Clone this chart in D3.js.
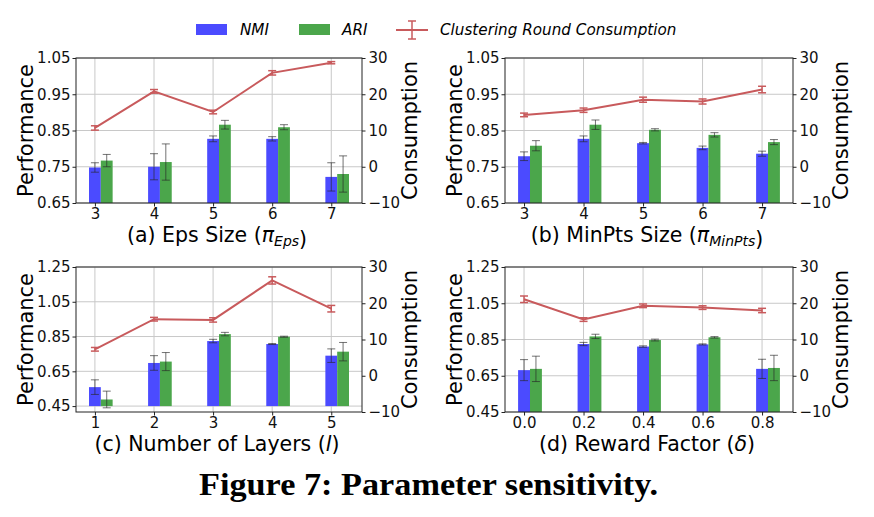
<!DOCTYPE html>
<html><head><meta charset="utf-8">
<script src="https://cdn.jsdelivr.net/npm/d3@7"></script>
<style>
body{margin:0;background:#fff;}
svg{display:block;font-family:"DejaVu Sans",sans-serif;}
</style></head>
<body>
<svg id="chart" width="874" height="517"></svg>
<script>
// ---------- data ----------
const legendLabels = ["NMI", "ARI", "Clustering Round Consumption"];
const perfTicksAB = [0.65, 0.75, 0.85, 0.95, 1.05];
const perfTicksCD = [0.45, 0.65, 0.85, 1.05, 1.25];
const consTicks = [-10, 0, 10, 20, 30];

// (a) Eps size
const catsA = ["3", "4", "5", "6", "7"];
const nmiA = [0.748, 0.750, 0.827, 0.827, 0.722];
const nmiErrA = [0.013, 0.036, 0.008, 0.006, 0.039];
const ariA = [0.767, 0.763, 0.866, 0.859, 0.730];
const ariErrA = [0.017, 0.050, 0.012, 0.007, 0.050];
const consA = [10.7, 20.8, 15.1, 25.9, 28.7];
const consErrA = [0.6, 0.5, 0.5, 0.6, 0.3];

// (b) MinPts size
const catsB = ["3", "4", "5", "6", "7"];
const nmiB = [0.779, 0.827, 0.815, 0.802, 0.786];
const nmiErrB = [0.012, 0.008, 0.002, 0.005, 0.007];
const ariB = [0.808, 0.866, 0.852, 0.838, 0.818];
const ariErrB = [0.014, 0.013, 0.003, 0.006, 0.007];
const consB = [14.3, 15.6, 18.5, 18.0, 21.3];
const consErrB = [0.5, 0.6, 0.7, 0.7, 0.9];

// (c) Number of layers
const catsC = ["1", "2", "3", "4", "5"];
const nmiC = [0.559, 0.698, 0.824, 0.807, 0.740];
const nmiErrC = [0.042, 0.042, 0.010, 0.003, 0.039];
const ariC = [0.488, 0.706, 0.864, 0.849, 0.763];
const ariErrC = [0.048, 0.052, 0.010, 0.003, 0.053];
const consC = [7.3, 15.6, 15.4, 26.3, 18.5];
const consErrC = [0.5, 0.5, 0.6, 1.0, 0.9];

// (d) Reward factor
const catsD = ["0.0", "0.2", "0.4", "0.6", "0.8"];
const nmiD = [0.681, 0.825, 0.811, 0.823, 0.688];
const nmiErrD = [0.058, 0.009, 0.004, 0.003, 0.053];
const ariD = [0.688, 0.867, 0.847, 0.862, 0.693];
const ariErrD = [0.070, 0.012, 0.005, 0.004, 0.070];
const consD = [21.1, 15.5, 19.3, 18.8, 18.0];
const consErrD = [0.9, 0.5, 0.5, 0.5, 0.6];

// ---------- styling / layout ----------
const C_NMI = "#4b4bff", C_ARI = "#4ba64b", C_LINE = "#c85a5c", C_ERR = "rgba(40,40,40,0.65)";
const svg = d3.select("#chart");

const panels = [
  {left:76, right:362, top:58, bottom:203, cats:catsA, nmi:nmiA, nmiErr:nmiErrA, ari:ariA, ariErr:ariErrA, cons:consA, consErr:consErrA,
   pDom:[0.65,1.05], pTicks:perfTicksAB, base:0.65, xl:[["(a) Eps Size (",""],["π","i"],["Eps","sub"],[")",""]]},
  {left:505, right:793, top:58, bottom:203, cats:catsB, nmi:nmiB, nmiErr:nmiErrB, ari:ariB, ariErr:ariErrB, cons:consB, consErr:consErrB,
   pDom:[0.65,1.05], pTicks:perfTicksAB, base:0.65, xl:[["(b) MinPts Size (",""],["π","i"],["MinPts","sub"],[")",""]]},
  {left:76, right:362, top:267, bottom:412, cats:catsC, nmi:nmiC, nmiErr:nmiErrC, ari:ariC, ariErr:ariErrC, cons:consC, consErr:consErrC,
   pDom:[0.416,1.25], pTicks:perfTicksCD, base:0.45, xl:[["(c) Number of Layers (",""],["l","i"],[")",""]]},
  {left:505, right:793, top:267, bottom:412, cats:catsD, nmi:nmiD, nmiErr:nmiErrD, ari:ariD, ariErr:ariErrD, cons:consD, consErr:consErrD,
   pDom:[0.45,1.25], pTicks:perfTicksCD, base:0.45, xl:[["(d) Reward Factor (",""],["δ","i"],[")",""]]}
];

const BW = 0.2;
panels.forEach(p => {
  const g = svg.append("g");
  const x = d3.scaleLinear().domain([-0.32, 4.52]).range([p.left, p.right]);
  const y = d3.scaleLinear().domain(p.pDom).range([p.bottom, p.top]);
  const y2 = d3.scaleLinear().domain([-10, 30]).range([p.bottom, p.top]);
  const idx = p.cats.map((c,i)=>i);

  // grid
  g.selectAll(".gx").data(idx).join("line")
    .attr("x1", d=>x(d)).attr("x2", d=>x(d)).attr("y1", p.top).attr("y2", p.bottom)
    .attr("stroke", "#c8c8c8").attr("stroke-width", 1);
  g.selectAll(".gy").data(p.pTicks).join("line")
    .attr("x1", p.left).attr("x2", p.right).attr("y1", d=>y(d)).attr("y2", d=>y(d))
    .attr("stroke", "#c8c8c8").attr("stroke-width", 1);

  // bars
  const series = [
    {vals:p.nmi, errs:p.nmiErr, off:0, col:C_NMI},
    {vals:p.ari, errs:p.ariErr, off:BW, col:C_ARI}
  ];
  series.forEach(s => {
    g.selectAll(null).data(idx).join("rect")
      .attr("x", d=>x(d + s.off - BW/2)).attr("width", x(BW) - x(0))
      .attr("y", d=>y(s.vals[d])).attr("height", d=>y(p.base) - y(s.vals[d]))
      .attr("fill", s.col);
  });
  series.forEach(s => {
    const eg = g.selectAll(null).data(idx).join("g").attr("stroke", C_ERR).attr("stroke-width", 1);
    eg.append("line").attr("x1", d=>x(d+s.off)).attr("x2", d=>x(d+s.off))
      .attr("y1", d=>y(s.vals[d]-s.errs[d])).attr("y2", d=>y(s.vals[d]+s.errs[d]));
    [-1,1].forEach(sg => eg.append("line")
      .attr("x1", d=>x(d+s.off)-4).attr("x2", d=>x(d+s.off)+4)
      .attr("y1", d=>y(s.vals[d]+sg*s.errs[d])).attr("y2", d=>y(s.vals[d]+sg*s.errs[d])));
  });

  // consumption line
  g.append("path").datum(idx)
    .attr("d", d3.line().x(d=>x(d)).y(d=>y2(p.cons[d])))
    .attr("fill", "none").attr("stroke", C_LINE).attr("stroke-width", 2);
  const lg = g.selectAll(null).data(idx).join("g").attr("stroke", C_LINE).attr("stroke-width", 1.5);
  lg.append("line").attr("x1", d=>x(d)).attr("x2", d=>x(d))
    .attr("y1", d=>y2(p.cons[d]-p.consErr[d])).attr("y2", d=>y2(p.cons[d]+p.consErr[d]));
  [-1,1].forEach(sg => lg.append("line")
    .attr("x1", d=>x(d)-4).attr("x2", d=>x(d)+4)
    .attr("y1", d=>y2(p.cons[d]+sg*p.consErr[d])).attr("y2", d=>y2(p.cons[d]+sg*p.consErr[d])));

  // axes
  const ax = g.append("g").attr("transform", `translate(0,${p.bottom})`)
    .call(d3.axisBottom(x).tickValues(idx).tickFormat(d=>p.cats[d]).tickSize(3.5).tickPadding(2));
  const ay = g.append("g").attr("transform", `translate(${p.left},0)`)
    .call(d3.axisLeft(y).tickValues(p.pTicks).tickFormat(d3.format(".2f")).tickSize(3.5).tickPadding(2));
  const ay2 = g.append("g").attr("transform", `translate(${p.right},0)`)
    .call(d3.axisRight(y2).tickValues(consTicks).tickSize(3.5).tickPadding(3));
  [ax, ay, ay2].forEach(a => {
    a.select(".domain").remove();
    a.selectAll("line").attr("stroke", "#222");
    a.selectAll("text").attr("font-size", 15).attr("fill", "#111").attr("font-family", "DejaVu Sans");
  });
  g.append("rect").attr("x", p.left).attr("y", p.top).attr("width", p.right-p.left).attr("height", p.bottom-p.top)
    .attr("fill", "none").attr("stroke", "#222").attr("stroke-width", 1);

  // labels
  g.append("text").attr("transform", `translate(${p.left-50},${(p.top+p.bottom)/2}) rotate(-90)`)
    .attr("text-anchor", "middle").attr("dy", "0.35em").attr("font-size", 21).text("Performance");
  g.append("text").attr("transform", `translate(${p.right+48},${(p.top+p.bottom)/2}) rotate(-90)`)
    .attr("text-anchor", "middle").attr("dy", "0.35em").attr("font-size", 21).text("Consumption");
  const xt = g.append("text").attr("x", (p.left+p.right)/2 - 2).attr("y", p.bottom + 39)
    .attr("text-anchor", "middle").attr("font-size", 20.5);
  p.xl.forEach(([t, k]) => {
    const ts = xt.append("tspan").text(t);
    if (k === "i") ts.attr("font-style", "italic");
    if (k === "sub") ts.attr("font-style", "italic").attr("font-size", 14).attr("dy", 4);
  });
});

// legend
const leg = svg.append("g").attr("font-size", 15.2).attr("font-style", "italic");
leg.append("rect").attr("x", 196).attr("y", 24).attr("width", 31).attr("height", 11).attr("fill", C_NMI);
leg.append("text").attr("x", 240).attr("y", 30).attr("dy", "0.35em").text(legendLabels[0]);
leg.append("rect").attr("x", 299).attr("y", 24).attr("width", 31).attr("height", 11).attr("fill", C_ARI);
leg.append("text").attr("x", 342).attr("y", 30).attr("dy", "0.35em").text(legendLabels[1]);
leg.append("line").attr("x1", 396).attr("x2", 428).attr("y1", 30).attr("y2", 30).attr("stroke", C_LINE).attr("stroke-width", 2);
leg.append("line").attr("x1", 412).attr("x2", 412).attr("y1", 21).attr("y2", 39).attr("stroke", C_LINE).attr("stroke-width", 1.5);
leg.append("line").attr("x1", 408).attr("x2", 416).attr("y1", 21).attr("y2", 21).attr("stroke", C_LINE).attr("stroke-width", 1.5);
leg.append("line").attr("x1", 408).attr("x2", 416).attr("y1", 39).attr("y2", 39).attr("stroke", C_LINE).attr("stroke-width", 1.5);
leg.append("text").attr("x", 440).attr("y", 30).attr("dy", "0.35em").text(legendLabels[2]);

// caption
svg.append("text").attr("x", 199).attr("y", 495)
  .attr("font-family", "'Liberation Serif', serif").attr("font-weight", "bold").attr("font-size", 32)
  .attr("textLength", 459).attr("lengthAdjust", "spacingAndGlyphs")
  .text("Figure 7: Parameter sensitivity.");
</script>
</body></html>
